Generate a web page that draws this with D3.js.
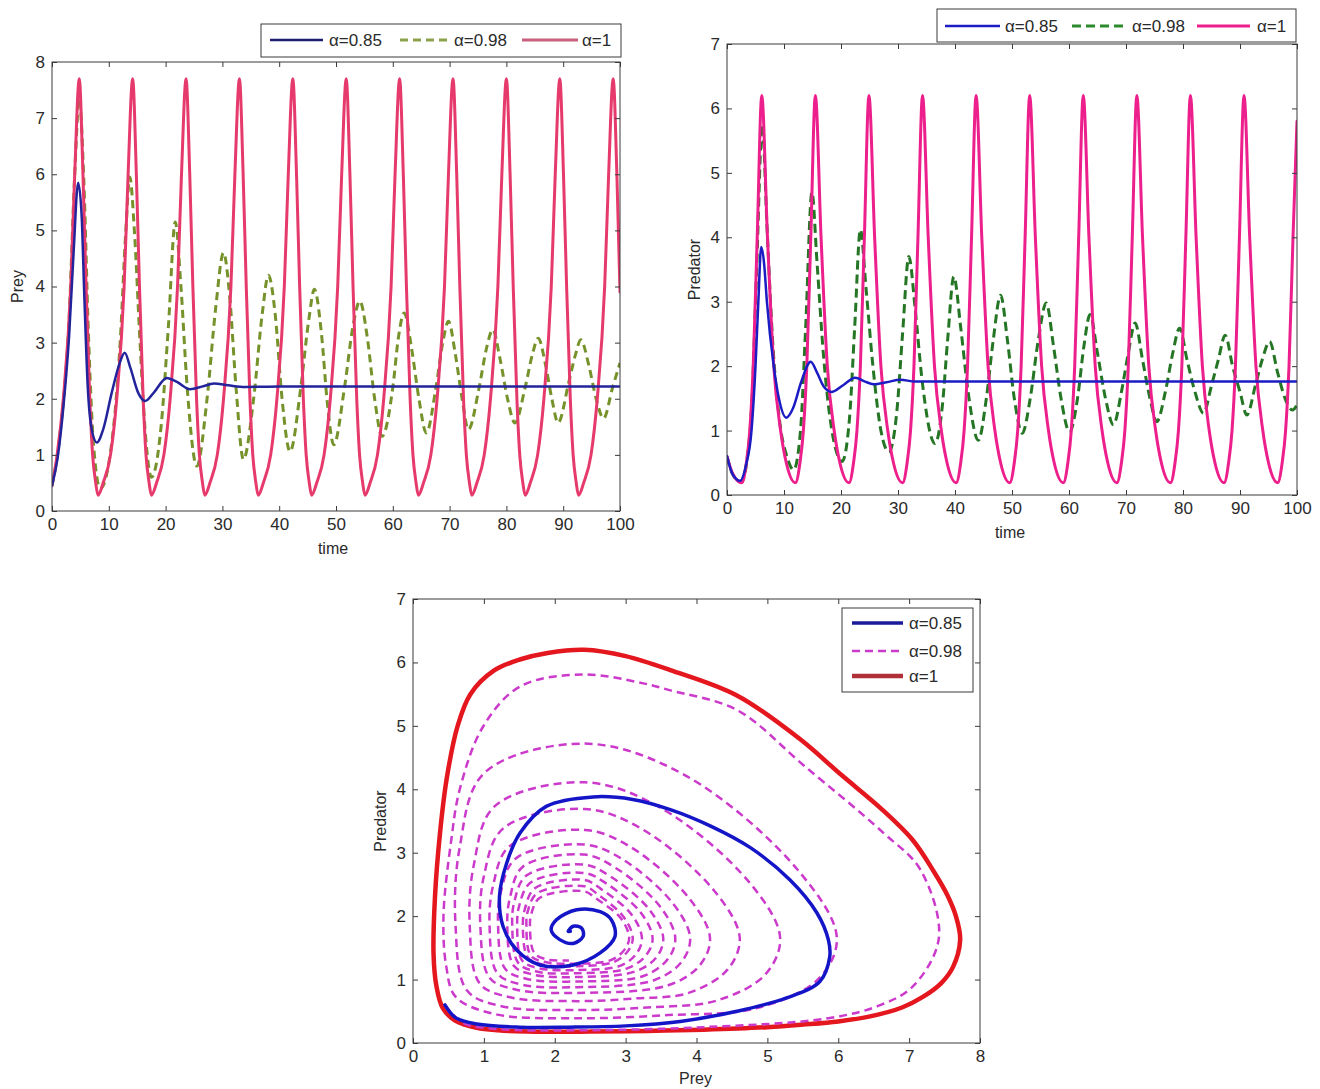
<!DOCTYPE html>
<html>
<head>
<meta charset="utf-8">
<script src="https://cdnjs.cloudflare.com/ajax/libs/d3/7.8.5/d3.min.js"></script>
<style>
body { margin: 0; background: #fff; }
svg text { font-family: "Liberation Sans", Arial, sans-serif; fill: #2a2a2a; }
</style>
</head>
<body>
<svg id="chart" width="1320" height="1089"></svg>
<script>
// tick labels
const timeTicks = [0, 10, 20, 30, 40, 50, 60, 70, 80, 90, 100]
const preyTicks = [0, 1, 2, 3, 4, 5, 6, 7, 8]
const predTicks = [0, 1, 2, 3, 4, 5, 6, 7]
const legendLabels = ["α=0.85", "α=0.98", "α=1"]

// prey vs time, [t, prey]
const preyA085 = [[0,0.45],[1,0.95],[2,1.85],[3,3.1],[3.8,4.6],[4.6,5.85],[5.2,5.3],[5.7,3.8],[6.3,2.2],[7.0,1.45],[7.9,1.22],[9,1.45],[10.5,2.1],[11.8,2.6],[12.8,2.82],[13.8,2.55],[15.2,2.1],[16.4,1.96],[18,2.12],[20.2,2.37],[22,2.3],[24.3,2.17],[26.5,2.22],[28.5,2.27],[31,2.24],[34,2.21],[40,2.22],[100,2.22]]

const preyA098 = [[0,0.45],[1.5,1.45],[3,3.4],[4.0,6.0],[4.8,7.35],[5.6,5.9],[6.4,3.2],[7.3,1.2],[8.5,0.4],[10.5,1.2],[12.0,3.0],[13.0,5.0],[13.7,5.95],[14.5,5.0],[15.5,3.0],[16.5,1.3],[17.5,0.6],[19.2,1.5],[20.5,3.3],[21.7,5.15],[22.7,4.0],[23.8,2.2],[25.5,0.8],[27.3,2.0],[28.8,3.6],[30.2,4.6],[31.3,3.8],[32.4,2.2],[33.7,0.92],[35.5,2.0],[37,3.5],[38.1,4.2],[39.3,3.5],[40.5,2.0],[41.9,1.06],[43.8,2.2],[45.2,3.4],[46.2,3.95],[47.4,3.2],[48.5,1.9],[49.6,1.18],[51.5,2.2],[53.0,3.3],[54.2,3.74],[55.5,3.1],[56.8,2.0],[58.1,1.33],[60,2.2],[61,3.1],[62.0,3.53],[63.3,2.9],[64.6,2.0],[65.9,1.39],[67.6,2.2],[68.8,3.0],[69.8,3.38],[71.0,2.8],[72.2,2.0],[73.3,1.45],[75.2,2.2],[76.5,2.9],[77.6,3.23],[78.9,2.7],[80.2,2.0],[81.5,1.57],[83.3,2.2],[84.6,2.8],[85.6,3.08],[86.9,2.6],[88.0,2.0],[89.1,1.57],[91.0,2.3],[92.2,2.8],[93.1,3.05],[94.5,2.6],[95.8,2.0],[97.1,1.65],[98.7,2.2],[100,2.64]]

const preyA1 = [
	[0,0.45],[0.9,1.0],[2.0,2.0],[3.3,4.0],[4.0,6.0],[4.8,7.7],[5.45,6.0],[6.0,4.0],[6.65,2.0],[7.15,1.0],[7.7,0.5],[8.1,0.28],
	[9.0,0.5],[10.3,1.0],[11.4,2.0],[12.7,4.0],[13.4,6.0],[14.2,7.7],[14.85,6.0],[15.4,4.0],[16.05,2.0],[16.55,1.0],[17.1,0.5],[17.5,0.28],
	[18.4,0.5],[19.7,1.0],[20.8,2.0],[22.1,4.0],[22.8,6.0],[23.6,7.7],[24.25,6.0],[24.8,4.0],[25.45,2.0],[25.95,1.0],[26.5,0.5],[26.9,0.28],
	[27.8,0.5],[29.1,1.0],[30.2,2.0],[31.5,4.0],[32.2,6.0],[33.0,7.7],[33.65,6.0],[34.2,4.0],[34.85,2.0],[35.35,1.0],[35.9,0.5],[36.3,0.28],
	[37.2,0.5],[38.5,1.0],[39.6,2.0],[40.9,4.0],[41.6,6.0],[42.4,7.7],[43.05,6.0],[43.6,4.0],[44.25,2.0],[44.75,1.0],[45.3,0.5],[45.7,0.28],
	[46.6,0.5],[47.9,1.0],[49.0,2.0],[50.3,4.0],[51.0,6.0],[51.8,7.7],[52.45,6.0],[53.0,4.0],[53.65,2.0],[54.15,1.0],[54.7,0.5],[55.1,0.28],
	[56.0,0.5],[57.3,1.0],[58.4,2.0],[59.7,4.0],[60.4,6.0],[61.2,7.7],[61.85,6.0],[62.4,4.0],[63.05,2.0],[63.55,1.0],[64.1,0.5],[64.5,0.28],
	[65.4,0.5],[66.7,1.0],[67.8,2.0],[69.1,4.0],[69.8,6.0],[70.6,7.7],[71.25,6.0],[71.8,4.0],[72.45,2.0],[72.95,1.0],[73.5,0.5],[73.9,0.28],
	[74.8,0.5],[76.1,1.0],[77.2,2.0],[78.5,4.0],[79.2,6.0],[80.0,7.7],[80.65,6.0],[81.2,4.0],[81.85,2.0],[82.35,1.0],[82.9,0.5],[83.3,0.28],
	[84.2,0.5],[85.5,1.0],[86.6,2.0],[87.9,4.0],[88.6,6.0],[89.4,7.7],[90.05,6.0],[90.6,4.0],[91.25,2.0],[91.75,1.0],[92.3,0.5],[92.7,0.28],
	[93.6,0.5],[94.9,1.0],[96.0,2.0],[97.3,4.0],[98.0,6.0],[98.8,7.7],[99.45,6.0],[100,3.9]
]

// predator vs time, [t, predator]
const predA085 = [[0,0.6],[1,0.32],[2.3,0.22],[3.3,0.45],[4.3,1.0],[5.0,2.0],[5.5,3.0],[6.0,3.85],[6.5,3.6],[7.0,3.0],[8.2,2.0],[9.1,1.5],[10.4,1.2],[11.6,1.35],[13.0,1.75],[14.7,2.07],[15.8,1.9],[17.0,1.68],[18.4,1.6],[20.3,1.7],[22.5,1.82],[24.2,1.76],[25.7,1.72],[28,1.75],[30.4,1.79],[33,1.76],[36,1.76],[100,1.76]]

const predA098 = [[0,0.6],[1,0.32],[2.5,0.2],[3.6,0.6],[4.4,1.5],[5.2,3.5],[6.2,5.75],[7.0,4.2],[8.0,2.4],[9.3,1.1],[10.5,0.6],[11.7,0.39],
	[12.9,1.0],[13.8,2.6],[14.9,4.7],[15.8,3.6],[16.9,2.2],[18.4,1.0],[20.2,0.52],
	[21.5,1.2],[22.4,2.6],[23.4,4.12],[24.4,3.2],[25.6,2.0],[27.0,1.0],[28.4,0.67],
	[29.8,1.3],[30.8,2.5],[31.9,3.7],[33.0,2.9],[34.2,1.8],[36.5,0.8],
	[37.8,1.4],[38.7,2.4],[39.8,3.39],[41.0,2.6],[42.3,1.6],[44.1,0.85],
	[45.5,1.5],[46.7,2.4],[48.0,3.1],[49.2,2.4],[50.4,1.5],[51.8,0.96],
	[53.2,1.5],[54.6,2.4],[56.0,2.98],[57.3,2.3],[58.6,1.5],[60.1,0.98],
	[61.5,1.5],[62.6,2.3],[63.7,2.8],[65.0,2.2],[66.4,1.5],[67.8,1.09],
	[69.2,1.6],[70.4,2.2],[71.6,2.67],[72.9,2.1],[74.2,1.5],[75.4,1.14],
	[76.9,1.6],[78.2,2.2],[79.4,2.59],[80.7,2.1],[82.1,1.6],[83.6,1.27],
	[85.0,1.7],[86.2,2.1],[87.4,2.48],[88.7,2.0],[90.0,1.6],[91.2,1.24],
	[92.7,1.7],[93.9,2.1],[95.2,2.38],[96.6,1.9],[97.9,1.5],[99.2,1.32],[100,1.4]]

const predA1 = [
	[0,0.6],[1.0,0.33],[2.6,0.19],
	[3.4,0.5],[4.0,1.0],[4.6,2.0],[5.3,4.0],[6.1,6.2],[7.1,4.0],[8.2,2.0],[9.4,1.0],[10.4,0.5],[12.0,0.19],
	[12.8,0.5],[13.4,1.0],[14.0,2.0],[14.7,4.0],[15.5,6.2],[16.5,4.0],[17.6,2.0],[18.8,1.0],[19.8,0.5],[21.4,0.19],
	[22.2,0.5],[22.8,1.0],[23.4,2.0],[24.1,4.0],[24.9,6.2],[25.9,4.0],[27.0,2.0],[28.2,1.0],[29.2,0.5],[30.8,0.19],
	[31.6,0.5],[32.2,1.0],[32.8,2.0],[33.5,4.0],[34.3,6.2],[35.3,4.0],[36.4,2.0],[37.6,1.0],[38.6,0.5],[40.2,0.19],
	[41.0,0.5],[41.6,1.0],[42.2,2.0],[42.9,4.0],[43.7,6.2],[44.7,4.0],[45.8,2.0],[47.0,1.0],[48.0,0.5],[49.6,0.19],
	[50.4,0.5],[51.0,1.0],[51.6,2.0],[52.3,4.0],[53.1,6.2],[54.1,4.0],[55.2,2.0],[56.4,1.0],[57.4,0.5],[59.0,0.19],
	[59.8,0.5],[60.4,1.0],[61.0,2.0],[61.7,4.0],[62.5,6.2],[63.5,4.0],[64.6,2.0],[65.8,1.0],[66.8,0.5],[68.4,0.19],
	[69.2,0.5],[69.8,1.0],[70.4,2.0],[71.1,4.0],[71.9,6.2],[72.9,4.0],[74.0,2.0],[75.2,1.0],[76.2,0.5],[77.8,0.19],
	[78.6,0.5],[79.2,1.0],[79.8,2.0],[80.5,4.0],[81.3,6.2],[82.3,4.0],[83.4,2.0],[84.6,1.0],[85.6,0.5],[87.2,0.19],
	[88.0,0.5],[88.6,1.0],[89.2,2.0],[89.9,4.0],[90.7,6.2],[91.7,4.0],[92.8,2.0],[94.0,1.0],[95.0,0.5],[96.6,0.19],
	[97.4,0.5],[98.0,1.0],[98.6,2.0],[99.3,4.0],[100,5.8]
]

// phase plane, [prey, predator]
const phaseA085 = [[0.45,0.6],[0.6,0.4],[0.9,0.3],[1.5,0.25],[2.2,0.25],[3.0,0.27],[3.77,0.34],[4.57,0.5],[5.27,0.71],[5.74,0.97],[5.88,1.36],[5.86,1.63],[5.7,2.05],[5.32,2.57],[4.76,3.08],[4.2,3.42],[3.63,3.68],[3.1,3.84],[2.54,3.88],[1.88,3.73],[1.51,3.31],[1.32,2.83],[1.22,2.31],[1.27,1.84],[1.46,1.47],[1.79,1.23],[2.26,1.23],[2.64,1.42],[2.85,1.68],[2.8,1.94],[2.64,2.07],[2.31,2.1],[2.02,1.94],[1.95,1.78],[2.07,1.63],[2.26,1.57],[2.4,1.68],[2.38,1.81],[2.26,1.84],[2.19,1.76],[2.22,1.76]]

const phaseA098 = [[0.45,0.6],[0.7,0.32],[1.2,0.22],[2.32,0.2],[4.1,0.25],[5.86,0.39],[6.6,0.6],[7.06,0.9],[7.42,1.66],[7.16,2.73],[6.64,3.31],[5.51,4.38],[4.57,5.25],[3.63,5.56],[3.25,5.67],[2.4,5.81],[1.51,5.62],[0.99,4.99],[0.66,4.0],[0.54,3.2],[0.43,2.0],[0.47,1.2],[0.6,0.73],[1.14,0.46],
	[2.32,0.39],[3.6,0.44],[4.85,0.55],[5.72,1.01],[5.98,1.66],[5.42,2.74],[3.84,4.22],[2.42,4.72],[1.0,4.25],[0.66,3.09],[0.6,1.86],[0.76,0.83],[1.25,0.58],
	[2.32,0.52],[3.3,0.56],[4.29,0.67],[4.97,1.08],[5.18,1.66],[4.74,2.54],[3.49,3.71],[2.42,4.11],[1.15,3.73],[0.86,2.82],[0.8,1.86],[0.94,0.94],[1.37,0.72],
	[2.32,0.66],[3.1,0.7],[3.89,0.79],[4.44,1.16],[4.61,1.66],[4.25,2.4],[3.25,3.36],[2.42,3.69],[1.27,3.38],[1.0,2.63],[0.95,1.86],[1.08,1.03],[1.46,0.84],
	[2.32,0.79],[3.6,0.91],[4.05,1.23],[4.19,1.66],[3.89,2.29],[3.07,3.09],[2.42,3.36],[1.36,3.1],[1.13,2.48],[1.08,1.86],[1.19,1.1],[1.54,0.92],
	[2.32,0.88],[3.4,0.99],[3.79,1.28],[3.91,1.66],[3.66,2.21],[2.95,2.9],[2.42,3.13],[1.45,2.91],[1.24,2.38],[1.2,1.86],[1.3,1.17],[1.61,1.01],
	[2.32,0.97],[3.26,1.06],[3.6,1.33],[3.7,1.66],[3.48,2.16],[2.86,2.76],[2.42,2.97],[1.55,2.78],[1.37,2.3],[1.33,1.86],[1.42,1.22],[1.69,1.08],
	[2.32,1.04],[3.14,1.13],[3.44,1.36],[3.53,1.66],[3.33,2.11],[2.78,2.63],[2.42,2.81],[1.6,2.64],[1.43,2.23],[1.4,1.86],[1.48,1.27],[1.73,1.13],
	[2.32,1.1],[3.03,1.18],[3.3,1.4],[3.38,1.66],[3.21,2.06],[2.72,2.52],[2.42,2.68],[1.66,2.53],[1.5,2.17],[1.47,1.86],[1.54,1.3],[1.77,1.18],
	[2.32,1.15],[2.93,1.22],[3.16,1.42],[3.23,1.66],[3.08,2.03],[2.65,2.43],[2.42,2.57],[1.72,2.44],[1.58,2.12],[1.55,1.86],[1.62,1.35],[1.82,1.24],
	[2.32,1.21],[2.84,1.28],[3.04,1.46],[3.1,1.66],[2.97,1.99],[2.6,2.35],[2.42,2.47],[1.75,2.36],[1.62,2.08],[1.6,1.86],[1.66,1.38],[1.85,1.28],
	[2.32,1.25],[2.8,1.31],[2.99,1.48],[3.05,1.66],[2.93,1.97],[2.58,2.28],[2.42,2.39],[1.79,2.29],[1.67,2.04],[1.65,1.86],[1.71,1.42],[1.88,1.32],[2.2,1.3]]

const phaseA1 = [[1.6,0.18],[2.5,0.18],[3.3,0.19],[4.1,0.21],[5.0,0.25],[5.5,0.29],[6.0,0.34],[6.45,0.42],[6.9,0.56],[7.2,0.73],[7.45,0.94],[7.62,1.2],[7.72,1.63],[7.66,2.0],[7.54,2.33],[7.35,2.7],[7.05,3.2],[6.6,3.7],[6.05,4.22],[5.45,4.8],[4.57,5.48],[3.63,5.88],[3.0,6.1],[2.42,6.2],[1.9,6.15],[1.52,6.05],[1.14,5.87],[0.81,5.5],[0.63,5.0],[0.48,4.2],[0.38,3.3],[0.31,2.3],[0.29,1.4],[0.33,0.9],[0.42,0.55],[0.6,0.35],[0.9,0.24],[1.2,0.2]]

const svg = d3.select("#chart")
const defs = svg.append("defs")
const FONT = "'Liberation Sans', Arial, sans-serif"
const intFmt = d3.format("d")

function drawPanel(p) {
	const x = d3.scaleLinear().domain(p.xDomain).range([p.left, p.right])
	const y = d3.scaleLinear().domain(p.yDomain).range([p.bottom, p.top])
	const g = svg.append("g")

	defs.append("clipPath").attr("id", "clip-" + p.id)
		.append("rect")
		.attr("x", p.left).attr("y", p.top)
		.attr("width", p.right - p.left).attr("height", p.bottom - p.top)

	const plot = g.append("g").attr("clip-path", "url(#clip-" + p.id + ")")
	p.series.forEach(function (s) {
		const line = d3.line()
			.x(function (d) { return x(d[0]) })
			.y(function (d) { return y(d[1]) })
			.curve(s.curve)
		plot.append("path")
			.datum(s.data)
			.attr("d", line)
			.attr("fill", "none")
			.attr("stroke", s.color)
			.attr("stroke-width", s.width)
			.attr("stroke-dasharray", s.dash || null)
			.attr("stroke-linejoin", "round")
			.attr("stroke-linecap", s.dash ? "butt" : "round")
	})

	// frame
	g.append("rect")
		.attr("x", p.left).attr("y", p.top)
		.attr("width", p.right - p.left).attr("height", p.bottom - p.top)
		.attr("fill", "none").attr("stroke", "#3a3a3a").attr("stroke-width", 1)

	// inward ticks on all four sides, labels on bottom and left only
	const axes = [
		[d3.axisBottom(x).tickValues(p.xTicks).tickSize(-5).tickPadding(7).tickFormat(intFmt), "translate(0," + p.bottom + ")"],
		[d3.axisTop(x).tickValues(p.xTicks).tickSize(-5).tickFormat(""), "translate(0," + p.top + ")"],
		[d3.axisLeft(y).tickValues(p.yTicks).tickSize(-5).tickPadding(7).tickFormat(intFmt), "translate(" + p.left + ",0)"],
		[d3.axisRight(y).tickValues(p.yTicks).tickSize(-5).tickFormat(""), "translate(" + p.right + ",0)"],
	]
	axes.forEach(function (a) {
		const ax = g.append("g").attr("transform", a[1]).call(a[0])
		ax.attr("font-size", 17).attr("font-family", FONT).attr("color", "#3a3a3a")
		ax.select(".domain").remove()
	})

	g.append("text")
		.attr("x", (p.left + p.right) / 2 + (p.xLabelDx || 0)).attr("y", p.xLabelY)
		.attr("text-anchor", "middle").attr("font-size", 16)
		.text(p.xLabel)
	g.append("text")
		.attr("transform", "translate(" + p.yLabelX + "," + ((p.top + p.bottom) / 2) + ") rotate(-90)")
		.attr("text-anchor", "middle").attr("font-size", 16)
		.text(p.yLabel)

	// legend
	const L = p.legend
	g.append("rect")
		.attr("x", L.x).attr("y", L.y).attr("width", L.w).attr("height", L.h)
		.attr("fill", "#fff").attr("stroke", "#3a3a3a").attr("stroke-width", 1)
	L.items.forEach(function (it, i) {
		const s = p.series.find(function (d) { return d.label === legendLabels[i] })
		g.append("line")
			.attr("x1", it[0]).attr("x2", it[1]).attr("y1", it[3]).attr("y2", it[3])
			.attr("stroke", s.legendColor || s.color).attr("stroke-width", s.width)
			.attr("stroke-dasharray", s.dash || null)
		g.append("text")
			.attr("x", it[2]).attr("y", it[3] + 6)
			.attr("font-size", 17)
			.text(legendLabels[i])
	})
}

const mono = d3.curveMonotoneX
const cat = d3.curveCatmullRom.alpha(0.5)

drawPanel({
	id: "prey",
	left: 52, right: 620, top: 62, bottom: 511,
	xDomain: [0, 100], yDomain: [0, 8],
	xTicks: timeTicks, yTicks: preyTicks,
	xLabel: "time", xLabelY: 554, xLabelDx: -3,
	yLabel: "Prey", yLabelX: 23,
	series: [
		{ label: "α=0.98", data: preyA098, color: "#76922a", legendColor: "#8ca24a", width: 3, dash: "8,5", curve: mono },
		{ label: "α=1", data: preyA1, color: "#e63a6c", legendColor: "#c8607e", width: 3, curve: mono },
		{ label: "α=0.85", data: preyA085, color: "#23239c", legendColor: "#1e1e6e", width: 2.5, curve: mono },
	],
	legend: {
		x: 261, y: 24, w: 360, h: 33,
		items: [[270, 323, 329, 40], [400, 447, 454, 40], [522, 578, 582, 40]],
	},
})

drawPanel({
	id: "pred",
	left: 727, right: 1297, top: 44, bottom: 495,
	xDomain: [0, 100], yDomain: [0, 7],
	xTicks: timeTicks, yTicks: predTicks,
	xLabel: "time", xLabelY: 538, xLabelDx: -2,
	yLabel: "Predator", yLabelX: 700,
	series: [
		{ label: "α=0.98", data: predA098, color: "#247524", legendColor: "#2c8a2c", width: 3, dash: "9,5", curve: mono },
		{ label: "α=1", data: predA1, color: "#ec1f8c", width: 3, curve: mono },
		{ label: "α=0.85", data: predA085, color: "#1c1cc4", width: 2.5, curve: mono },
	],
	legend: {
		x: 937, y: 9, w: 359, h: 33,
		items: [[945, 1000, 1005, 26], [1072, 1125, 1132, 26], [1197, 1250, 1257, 26]],
	},
})

drawPanel({
	id: "phase",
	left: 413, right: 980, top: 599, bottom: 1043,
	xDomain: [0, 8], yDomain: [0, 7],
	xTicks: preyTicks, yTicks: predTicks,
	xLabel: "Prey", xLabelY: 1084, xLabelDx: -1,
	yLabel: "Predator", yLabelX: 386,
	series: [
		{ label: "α=1", data: phaseA1, color: "#e4161e", legendColor: "#b0303a", width: 4.5, curve: d3.curveCatmullRomClosed.alpha(0.5) },
		{ label: "α=0.98", data: phaseA098, color: "#cc3acc", width: 2.5, dash: "8,5", curve: cat },
		{ label: "α=0.85", data: phaseA085, color: "#1515c8", legendColor: "#1a1a9a", width: 3.5, curve: cat },
	],
	legend: {
		x: 842, y: 608, w: 131, h: 84,
		items: [[852, 903, 909, 623], [852, 903, 909, 651], [852, 903, 909, 676]],
	},
})
</script>
</body>
</html>
